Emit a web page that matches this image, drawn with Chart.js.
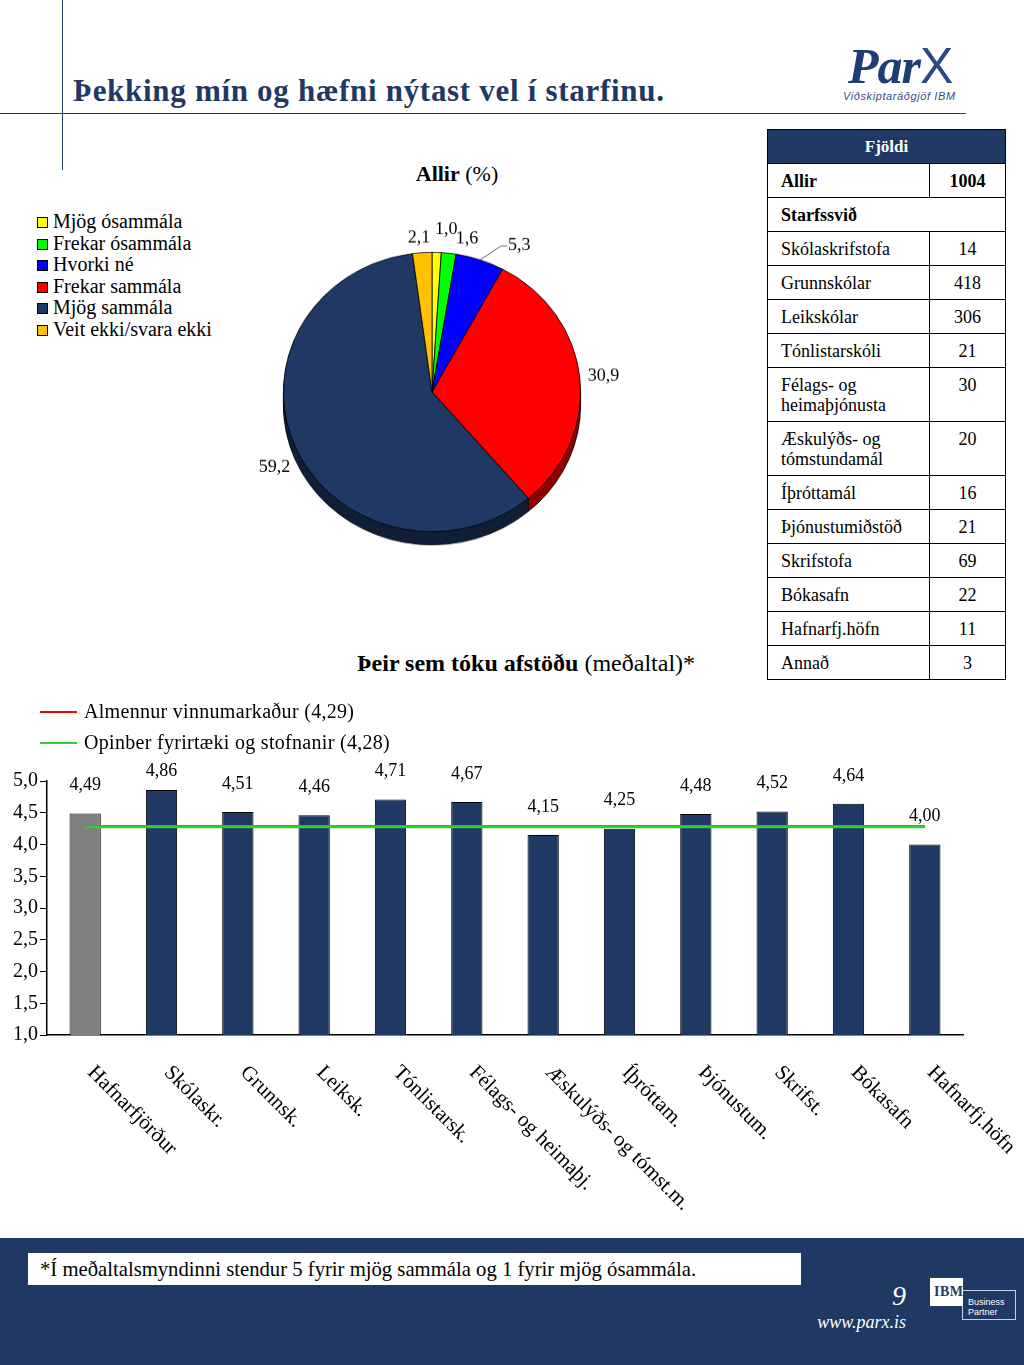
<!DOCTYPE html>
<html lang="is">
<head>
<meta charset="utf-8">
<title>Þekking mín og hæfni nýtast vel í starfinu.</title>
<script src="https://cdn.jsdelivr.net/npm/chart.js@4.4.0/dist/chart.umd.min.js"></script>
<style>
  body { margin: 0; width: 1024px; height: 1365px; position: relative; overflow: hidden; background: #fff;
         font-family: "Liberation Serif", serif; color: #000; }
  .abs { position: absolute; }
  .t { line-height: 1; white-space: nowrap; }
  #tbl { position: absolute; left: 767px; top: 129px; width: 239px; border-collapse: collapse; font-size: 18px; }
  #tbl td { border: 1px solid #000; padding: 7px 13px 6px; line-height: 20px; vertical-align: top; }
  #tbl td.n { text-align: center; padding-left: 4px; padding-right: 4px; }
  #tbl th { background: #1F3864; color: #fff; font-size: 17px; font-weight: bold; height: 33px; border: 1px solid #000; padding: 0; }
</style>
</head>
<body>

<div class="abs" style="left:62px;top:0;width:1px;height:170px;background:#1F3864"></div>
<div class="abs" style="left:0;top:113px;width:966px;height:1px;background:#1F3864"></div>
<div class="abs t" style="left:73px;top:75px;font-size:31px;font-weight:bold;color:#1F3864;letter-spacing:0.7px">Þekking mín og hæfni nýtast vel í starfinu.</div>

<!-- ParX logo -->
<div class="abs t" style="left:848px;top:41px;font-size:50px;font-style:italic;font-weight:bold;color:#1F3C74;letter-spacing:-1px">Par<span style="font-style:normal;font-weight:normal;font-family:'Liberation Sans';color:#2B4A85">X</span></div>
<div class="abs t" style="left:843px;top:91px;font-size:11px;font-style:italic;font-family:'Liberation Sans';color:#34508A;letter-spacing:0.6px">Viðskiptaráðgjöf IBM</div>

<!-- pie -->
<div class="abs t" style="left:357px;top:163px;width:200px;text-align:center;font-size:22px"><b>Allir</b> (%)</div>
<div id="pieLegend"></div>
<div class="abs" style="left:192px;top:192px;width:480px;height:400px;transform:scaleY(0.94);transform-origin:240px 200px">
  <canvas id="pie" width="480" height="400"></canvas>
</div>

<table id="tbl"></table>

<!-- bars -->
<div class="abs" style="left:0;top:690px;width:1024px;height:545px">
  <canvas id="bar" width="1024" height="545"></canvas>
</div>
<div class="abs t" style="left:226px;top:651px;width:600px;text-align:center;font-size:24px"><b>Þeir sem tóku afstöðu</b> (meðaltal)*</div>
<div id="barLegend"></div>

<!-- footer -->
<div class="abs" style="left:0;top:1238px;width:1024px;height:127px;background:#1F3864"></div>
<div class="abs" style="left:28px;top:1253px;width:761px;height:32px;background:#fff;padding-left:12px;font-size:20.7px;line-height:32px;white-space:nowrap">*Í meðaltalsmyndinni stendur 5 fyrir mjög sammála og 1 fyrir mjög ósammála.</div>
<div class="abs t" style="left:806px;top:1282px;width:100px;text-align:right;font-size:28px;font-style:italic;color:#fff">9</div>
<div class="abs t" style="left:786px;top:1313px;width:120px;text-align:right;font-size:18px;font-style:italic;color:#fff">www.parx.is</div>
<div class="abs" style="left:962px;top:1290px;width:54px;height:30px;border:1px solid #c8d0e0;box-sizing:border-box"></div>
<div class="abs t" style="left:968px;top:1297px;font-size:9px;font-family:'Liberation Sans';color:#fff;line-height:10px">Business<br>Partner</div>
<div class="abs" style="left:930px;top:1278px;width:33px;height:28px;background:#fff"></div>
<div class="abs t" style="left:934px;top:1285px;font-size:14px;font-weight:bold;font-family:'Liberation Serif';color:#1F3864;letter-spacing:0.5px">IBM</div>

<script>
// ---- data ----
const pieLabels = ['Mjög ósammála', 'Frekar ósammála', 'Hvorki né', 'Frekar sammála', 'Mjög sammála', 'Veit ekki/svara ekki'];
const pieValues = [1.0, 1.6, 5.3, 30.9, 59.2, 2.1];

const barCategories = ['Hafnarfjörður', 'Skólaskr.', 'Grunnsk.', 'Leiksk.', 'Tónlistarsk.', 'Félags- og heimaþj.',
  'Æskulýðs- og tómst.m.', 'Íþróttam.', 'Þjónustum.', 'Skrifst.', 'Bókasafn', 'Hafnarfj.höfn'];
const barValues = [4.49, 4.86, 4.51, 4.46, 4.71, 4.67, 4.15, 4.25, 4.48, 4.52, 4.64, 4.00];

const refLabels = ['Almennur vinnumarkaður (4,29)', 'Opinber fyrirtæki og stofnanir (4,28)'];
const refValues = [4.29, 4.28];

const yMin = 1, yMax = 5, yStep = 0.5;

const tableNames = ['Skólaskrifstofa', 'Grunnskólar', 'Leikskólar', 'Tónlistarskóli', 'Félags- og<br>heimaþjónusta',
  'Æskulýðs- og<br>tómstundamál', 'Íþróttamál', 'Þjónustumiðstöð', 'Skrifstofa', 'Bókasafn', 'Hafnarfj.höfn', 'Annað'];
const tableCounts = [14, 418, 306, 21, 30, 20, 16, 21, 69, 22, 11, 3];
const totalCount = 1004;

// ---- styles ----
const navy = '#1F3864';
const pieColors = ['#FFFF00', '#00FF00', '#0000FF', '#FF0000', navy, '#FFC000'];
const refColors = ['#FF0000', '#33CC33'];
const refWidths = [2, 3];
const pieDepth = 14;
// extra label nudge per slice (canvas px) and whether it gets a leader line
const pieNudge = [[9, -9], [16, 0], [33, 0], [0, 0], [0, 0], [-2, 0]];
const pieLeader = [false, false, true, false, false, false];

Chart.defaults.font.family = '"Liberation Serif", serif';
Chart.defaults.color = '#000';

function comma(v, d) { return v.toFixed(d).replace('.', ','); }
function darken(hex, f) {
  var n = parseInt(hex.slice(1), 16);
  var r = Math.round(((n >> 16) & 255) * f), g = Math.round(((n >> 8) & 255) * f), b = Math.round((n & 255) * f);
  return 'rgb(' + r + ',' + g + ',' + b + ')';
}

// legend for the pie
var pl = document.getElementById('pieLegend');
pieLabels.forEach(function (lab, i) {
  var y = 217 + i * 21.5;
  pl.insertAdjacentHTML('beforeend',
    '<div class="abs" style="left:37px;top:' + y + 'px;width:11px;height:11px;border:1px solid #000;box-sizing:border-box;background:' + pieColors[i] + '"></div>' +
    '<div class="abs t" style="left:53px;top:' + (y - 6) + 'px;font-size:20px">' + lab + '</div>');
});

// legend for the reference lines
var bl = document.getElementById('barLegend');
refLabels.forEach(function (lab, i) {
  var y = 712 + i * 31;
  bl.insertAdjacentHTML('beforeend',
    '<div class="abs" style="left:40px;top:' + (y - 1) + 'px;width:37px;height:2px;background:' + refColors[i] + '"></div>' +
    '<div class="abs t" style="left:84px;top:' + (y - 11) + 'px;font-size:20px;letter-spacing:0.3px">' + lab + '</div>');
});

// table
var tbl = document.getElementById('tbl');
var html = '<tr><th colspan="2">Fjöldi</th></tr>' +
  '<tr><td style="width:135px"><b>Allir</b></td><td class="n"><b>' + totalCount + '</b></td></tr>' +
  '<tr><td colspan="2"><b>Starfssvið</b></td></tr>';
tableNames.forEach(function (nm, i) {
  html += '<tr><td>' + nm + '</td><td class="n">' + tableCounts[i] + '</td></tr>';
});
tbl.innerHTML = html;

// ---- pie: side of the 3D disc ----
var pie3d = {
  id: 'pie3d',
  beforeDatasetsDraw: function (chart) {
    var ctx = chart.ctx, meta = chart.getDatasetMeta(0);
    ctx.save();
    meta.data.forEach(function (arc, i) {
      var p = arc.getProps(['x', 'y', 'startAngle', 'endAngle', 'outerRadius'], true);
      ctx.fillStyle = darken(pieColors[i], 0.55);
      for (var d = pieDepth; d >= 1; d--) {
        ctx.beginPath();
        ctx.moveTo(p.x, p.y + d);
        ctx.arc(p.x, p.y + d, p.outerRadius, p.startAngle, p.endAngle);
        ctx.closePath();
        ctx.fill();
      }
    });
    var p0 = meta.data[0].getProps(['x', 'y', 'outerRadius'], true);
    ctx.strokeStyle = '#000';
    ctx.lineWidth = 0.8;
    ctx.beginPath();
    ctx.arc(p0.x, p0.y + pieDepth, p0.outerRadius, 0, Math.PI);
    ctx.stroke();
    var seams = [0, Math.PI];
    meta.data.forEach(function (arc) {
      var a = arc.getProps(['endAngle'], true).endAngle;
      if (Math.sin(a) > 0) seams.push(a);
    });
    seams.forEach(function (a) {
      var sx = p0.x + p0.outerRadius * Math.cos(a), sy = p0.y + p0.outerRadius * Math.sin(a);
      ctx.beginPath();
      ctx.moveTo(sx, sy);
      ctx.lineTo(sx, sy + pieDepth);
      ctx.stroke();
    });
    ctx.restore();
  }
};

// ---- pie: value labels ----
var pieValueLabels = {
  id: 'pieValueLabels',
  afterDatasetsDraw: function (chart) {
    var ctx = chart.ctx, meta = chart.getDatasetMeta(0);
    ctx.save();
    ctx.font = '18px "Liberation Serif"';
    ctx.textAlign = 'center';
    ctx.textBaseline = 'middle';
    var boxes = meta.data.map(function (arc, i) {
      var p = arc.getProps(['x', 'y', 'startAngle', 'endAngle', 'outerRadius'], true);
      var mid = (p.startAngle + p.endAngle) / 2, c = Math.cos(mid), s = Math.sin(mid);
      var txt = comma(pieValues[i], 1), w = ctx.measureText(txt).width, h = 15;
      var rr = p.outerRadius + 8;
      return {
        txt: txt, w: w, h: h,
        bx: p.x + rr * c + c * w / 2 + pieNudge[i][0],
        by: p.y + rr * s + s * h / 2 + (s > 0 ? pieDepth : 0) + pieNudge[i][1],
        ex: p.x + p.outerRadius * c, ey: p.y + p.outerRadius * s,
        lead: pieLeader[i]
      };
    });
    for (var k = 0; k < 20; k++) {
      for (var a = 0; a < boxes.length; a++) {
        for (var b = a + 1; b < boxes.length; b++) {
          var A = boxes[a], B = boxes[b];
          var need = (A.w + B.w) / 2 + 2, dx = B.bx - A.bx;
          if (Math.abs(dx) < need && Math.abs(B.by - A.by) < (A.h + B.h) / 2 - 8) {
            var sh = (need - Math.abs(dx)) / 2;
            if (dx >= 0) { A.bx -= sh; B.bx += sh; } else { A.bx += sh; B.bx -= sh; }
          }
        }
      }
    }
    boxes.forEach(function (bx) {
      if (bx.lead) {
        ctx.strokeStyle = '#333';
        ctx.lineWidth = 0.8;
        ctx.beginPath();
        ctx.moveTo(bx.ex, bx.ey);
        ctx.lineTo(bx.bx - bx.w / 2 - 7, bx.by);
        ctx.lineTo(bx.bx - bx.w / 2 - 1, bx.by);
        ctx.stroke();
      }
      ctx.fillStyle = '#000';
      ctx.fillText(bx.txt, bx.bx, bx.by);
    });
    ctx.restore();
  }
};

new Chart(document.getElementById('pie'), {
  type: 'pie',
  data: {
    labels: pieLabels,
    datasets: [{ data: pieValues, backgroundColor: pieColors, borderColor: '#000', borderWidth: 0.8 }]
  },
  options: {
    responsive: false,
    animation: false,
    layout: { padding: { left: 91, right: 91, top: 51, bottom: 51 } },
    plugins: { legend: { display: false }, tooltip: { enabled: false } }
  },
  plugins: [pie3d, pieValueLabels]
});

// ---- bar chart ----
var barValueLabels = {
  id: 'barValueLabels',
  afterDatasetsDraw: function (chart) {
    var ctx = chart.ctx, area = chart.chartArea, meta = chart.getDatasetMeta(2);
    ctx.save();
    ctx.font = '18px "Liberation Serif"';
    ctx.fillStyle = '#000';
    ctx.textAlign = 'center';
    ctx.textBaseline = 'middle';
    meta.data.forEach(function (bar, i) {
      var y = Math.max(bar.y - 28, area.top - 10);
      ctx.fillText(comma(barValues[i], 2), bar.x, y);
    });
    ctx.restore();
  }
};

var slantedLabels = {
  id: 'slantedLabels',
  afterDraw: function (chart) {
    var ctx = chart.ctx, x = chart.scales.x, area = chart.chartArea;
    ctx.save();
    ctx.font = '21px "Liberation Serif"';
    ctx.fillStyle = '#000';
    ctx.textAlign = 'left';
    ctx.textBaseline = 'top';
    chart.data.labels.forEach(function (lab, i) {
      ctx.save();
      ctx.translate(x.getPixelForTick(i) + 13, area.bottom + 27);
      ctx.rotate(Math.PI / 4);
      ctx.fillText(lab, 0, 0);
      ctx.restore();
    });
    ctx.restore();
  }
};

var first = barCategories[0], last = barCategories[barCategories.length - 1];

new Chart(document.getElementById('bar'), {
  type: 'bar',
  data: {
    labels: barCategories,
    datasets: [
      {
        type: 'line', label: refLabels[1], order: 0,
        data: [{ x: first, y: refValues[1] }, { x: last, y: refValues[1] }],
        borderColor: refColors[1], borderWidth: refWidths[1], pointRadius: 0, fill: false
      },
      {
        type: 'line', label: refLabels[0], order: 1,
        data: [{ x: first, y: refValues[0] }, { x: last, y: refValues[0] }],
        borderColor: refColors[0], borderWidth: refWidths[0], pointRadius: 0, fill: false
      },
      {
        type: 'bar', label: 'Meðaltal', order: 2,
        data: barValues,
        backgroundColor: barValues.map(function (v, i) { return i === 0 ? '#808080' : navy; }),
        borderColor: '#000', borderWidth: 1,
        barPercentage: 0.41, categoryPercentage: 1
      }
    ]
  },
  options: {
    responsive: false,
    animation: false,
    layout: { padding: { top: 91, right: 61, left: 0, bottom: 0 } },
    plugins: { legend: { display: false }, tooltip: { enabled: false } },
    scales: {
      x: {
        grid: { display: false },
        border: { display: true, color: '#000', width: 1.5 },
        ticks: { display: false },
        afterFit: function (s) { s.height = 200; }
      },
      y: {
        min: yMin, max: yMax,
        ticks: { stepSize: yStep, padding: 2, font: { size: 20 }, color: '#000',
                 callback: function (v) { return comma(v, 1); } },
        grid: { drawOnChartArea: false, drawTicks: true, tickLength: 7, color: '#000' },
        border: { display: true, color: '#000', width: 1.5 },
        afterFit: function (s) { s.width = 47; }
      }
    }
  },
  plugins: [barValueLabels, slantedLabels]
});
</script>
</body>
</html>
